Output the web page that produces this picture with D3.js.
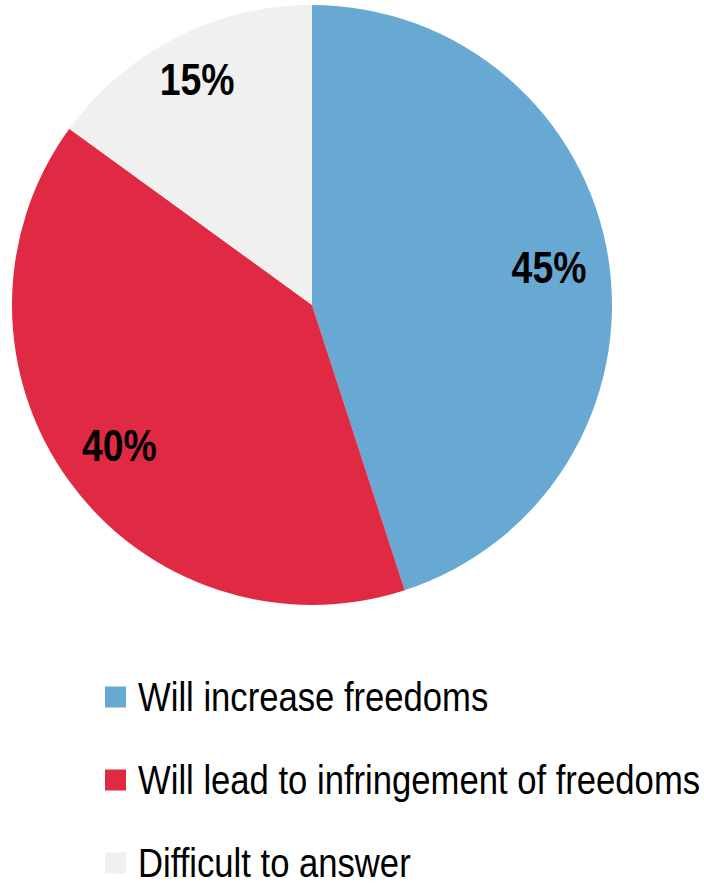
<!DOCTYPE html>
<html><head><meta charset="utf-8">
<script src="https://cdn.jsdelivr.net/npm/d3@7"></script>
<style>html,body{margin:0;padding:0;background:#fff;}</style>
</head><body>
<svg id="c" width="704" height="886"></svg>
<script>
const categories = ["Will increase freedoms", "Will lead to infringement of freedoms", "Difficult to answer"];
const values = [45, 40, 15];
const labels = ["45%", "40%", "15%"];
const colors = ["#67A9D3", "#E02A44", "#F0F0F0"];

const svg = d3.select("#c");
const font = "'Liberation Sans Narrow','Arial Narrow','Liberation Sans',Arial,sans-serif";
const cx = 312, cy = 305, R = 300;
const squeeze = 0.85;
const pie = d3.pie().sort(null).value(d => d)(values);
const arc = d3.arc().innerRadius(0).outerRadius(R);
const labelR = [240, 238, 253];
const g = svg.append("g").attr("transform", `translate(${cx},${cy})`);
g.selectAll("path").data(pie).join("path")
  .attr("d", arc).attr("fill", (d, i) => colors[i]);
g.selectAll("text").data(pie).join("text")
  .attr("transform", (d, i) => {
    const c = d3.arc().innerRadius(labelR[i]).outerRadius(labelR[i]).centroid(d);
    return `translate(${c}) scale(${squeeze},1)`;
  })
  .attr("text-anchor", "middle").attr("dy", "0.36em")
  .style("font-family", font).style("font-weight", "bold").style("font-size", "44px")
  .attr("fill", "#000").text((d, i) => labels[i]);

const leg = svg.append("g");
const rowY = d3.scalePoint().domain(categories).range([697, 863]);
categories.forEach((c, i) => {
  const y = rowY(c);
  leg.append("rect").attr("x", 105).attr("y", y - 10.5).attr("width", 21).attr("height", 21).attr("fill", colors[i]);
  leg.append("text").attr("transform", `translate(138,${y + 13.5}) scale(0.866,1)`)
    .style("font-family", font).style("font-size", "40px").attr("fill", "#000").text(c);
});
</script>
</body></html>
